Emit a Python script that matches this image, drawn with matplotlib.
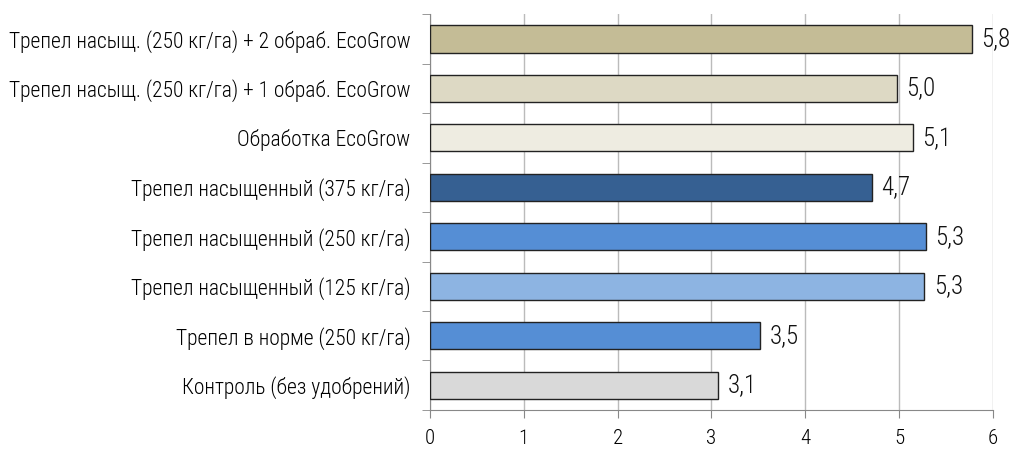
import matplotlib
matplotlib.use("Agg")
import matplotlib.pyplot as plt
from matplotlib import font_manager

categories = [
    "Трепел насыщ. (250 кг/га) + 2 обраб. EcoGrow",
    "Трепел насыщ. (250 кг/га) + 1 обраб. EcoGrow",
    "Обработка EcoGrow",
    "Трепел насыщенный (375 кг/га)",
    "Трепел насыщенный (250 кг/га)",
    "Трепел насыщенный (125 кг/га)",
    "Трепел в норме (250 кг/га)",
    "Контроль (без удобрений)",
]
values = [5.78, 4.98, 5.15, 4.71, 5.29, 5.27, 3.52, 3.07]
value_labels = ["5,8", "5,0", "5,1", "4,7", "5,3", "5,3", "3,5", "3,1"]
colors = ["#C4BC96", "#DDD9C4", "#EEECE1", "#366092",
          "#558ED5", "#8DB4E2", "#558ED5", "#D9D9D9"]
xticks = [0, 1, 2, 3, 4, 5, 6]

names = {f.name for f in font_manager.fontManager.ttflist}
cands = ["Roboto Condensed", "Open Sans Condensed", "Liberation Sans Narrow",
         "DejaVu Sans Condensed", "Noto Sans Condensed"]
chosen = [c for c in cands if c in names]
condensed = bool(chosen)
fam = (chosen[:1] if chosen else ["Liberation Sans"]) + ["DejaVu Sans"]
plt.rcParams["font.family"] = fam
plt.rcParams["font.weight"] = "light"

fig = plt.figure(figsize=(10.27, 4.57), dpi=100)
ax = fig.add_axes([0.4187, 0.103, 0.548, 0.866])

n = len(categories)
ypos = list(range(n))[::-1]
ax.barh(ypos, values, height=0.55, color=colors, edgecolor="#222222", linewidth=1.0, zorder=3)
vfs = 18 if condensed else 15
for y, v, lab in zip(ypos, values, value_labels):
    ax.text(v + 0.1, y, lab, va="center", ha="left", fontsize=vfs, color="#111111")

ax.set_xlim(0, 6)
ax.set_ylim(-0.5, n - 0.5)
ax.set_xticks(xticks)
ax.set_xticklabels([str(t) for t in xticks], fontsize=15 if condensed else 12)
ax.set_yticks(ypos)
ax.set_yticklabels(categories, fontsize=15.5 if condensed else 13)
ax.set_yticks([i - 0.5 for i in range(n + 1)], minor=True)
ax.tick_params(axis="y", which="major", length=0, pad=14)
ax.tick_params(axis="y", which="minor", length=6, color="#888888")
ax.tick_params(axis="x", length=6, color="#888888", pad=8)
ax.grid(axis="x", color="#BBBBBB", linewidth=1, zorder=0)
for s in ["top", "right"]:
    ax.spines[s].set_visible(False)
for s in ["left", "bottom"]:
    ax.spines[s].set_color("#888888")

fig.savefig("out.png", dpi=100)
